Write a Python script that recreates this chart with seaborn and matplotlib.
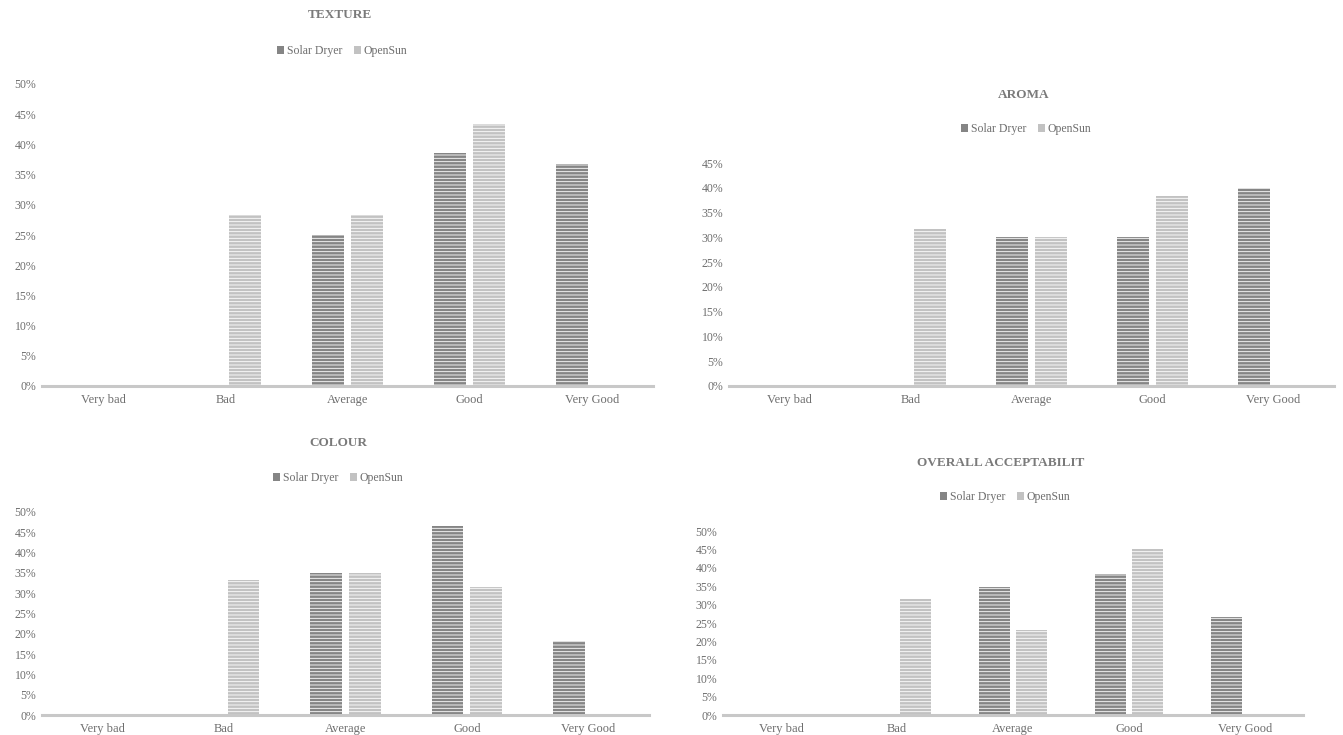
import matplotlib
matplotlib.use("Agg")
import matplotlib.pyplot as plt
import seaborn as sns
import pandas as pd
from matplotlib.ticker import PercentFormatter, MultipleLocator

sns.set_style("white")
plt.rcParams['font.family'] = ['Liberation Serif', 'DejaVu Serif']
plt.rcParams['hatch.linewidth'] = 0.6

categories = ["Very bad", "Bad", "Average", "Good", "Very Good"]
series_names = ["Solar Dryer", "OpenSun"]

texture_solar = [0, 0, 25.0, 38.5, 36.7]
texture_open = [0, 28.3, 28.3, 43.3, 0]
aroma_solar = [0, 0, 30.0, 30.0, 40.0]
aroma_open = [0, 31.7, 30.0, 38.3, 0]
colour_solar = [0, 0, 35.0, 46.6, 18.3]
colour_open = [0, 33.3, 35.0, 31.6, 0]
overall_solar = [0, 0, 34.9, 38.3, 26.6]
overall_open = [0, 31.6, 23.2, 45.0, 0]

panels = [
    dict(title="TEXTURE", solar=texture_solar, open=texture_open, ymax=50,
         rect=[42, 84, 653, 386], tpos=(340, 15), lpos=(342, 51)),
    dict(title="AROMA", solar=aroma_solar, open=aroma_open, ymax=45,
         rect=[729, 163, 1334, 386], tpos=(1024, 95), lpos=(1026, 129)),
    dict(title="COLOUR", solar=colour_solar, open=colour_open, ymax=50,
         rect=[42, 512, 649, 715], tpos=(338, 443), lpos=(338, 478)),
    dict(title="OVERALL ACCEPTABILIT", solar=overall_solar, open=overall_open, ymax=50,
         rect=[723, 531, 1303, 715], tpos=(1001, 463), lpos=(1005, 497)),
]

W, H = 1343, 735
fig = plt.figure(figsize=(W / 100, H / 100), dpi=100)

colors = {"Solar Dryer": "#858585", "OpenSun": "#c2c2c2"}
txt_color = "#6e6e6e"

for p in panels:
    x0, y0, x1, y1 = p["rect"]
    ax = fig.add_axes([x0 / W, 1 - y1 / H, (x1 - x0) / W, (y1 - y0) / H])
    df = pd.DataFrame({
        "Category": categories * 2,
        "Series": [series_names[0]] * 5 + [series_names[1]] * 5,
        "Value": [v / 100 for v in p["solar"]] + [v / 100 for v in p["open"]],
    })
    sns.barplot(data=df, x="Category", y="Value", hue="Series", order=categories,
                hue_order=series_names, palette=colors, width=0.64, gap=0.18,
                ax=ax, legend=True, edgecolor="white", linewidth=0)
    for patch in ax.patches:
        patch.set_hatch("-----")
        patch.set_edgecolor("white")
        patch.set_linewidth(0)
    ax.set_ylim(0, p["ymax"] / 100)
    ax.set_xlim(-0.5, 4.5)
    ax.yaxis.set_major_locator(MultipleLocator(0.05))
    ax.yaxis.set_major_formatter(PercentFormatter(1.0, decimals=0))
    ax.set_xlabel("")
    ax.set_ylabel("")
    for s in ["top", "right", "left"]:
        ax.spines[s].set_visible(False)
    ax.spines["bottom"].set_color("#c8c8c8")
    ax.spines["bottom"].set_linewidth(2.2)
    ax.tick_params(axis="both", length=0, labelcolor=txt_color)
    ax.tick_params(axis="x", labelsize=9, pad=6)
    ax.tick_params(axis="y", labelsize=8.5, pad=4)
    ax.grid(False)
    leg = ax.legend(loc="center", bbox_to_anchor=(p["lpos"][0] / W, 1 - p["lpos"][1] / H),
                    bbox_transform=fig.transFigure, ncol=2, frameon=False,
                    handlelength=0.6, handleheight=0.6, handletextpad=0.2,
                    columnspacing=1.0, fontsize=8.5)
    for t in leg.get_texts():
        t.set_color(txt_color)
    for h in leg.legend_handles:
        h.set_hatch(None)
    fig.text(p["tpos"][0] / W, 1 - p["tpos"][1] / H, p["title"], ha="center", va="center",
             fontsize=9.5, fontweight="bold", color="#7a7a7a")

fig.savefig("out.png", dpi=100)
